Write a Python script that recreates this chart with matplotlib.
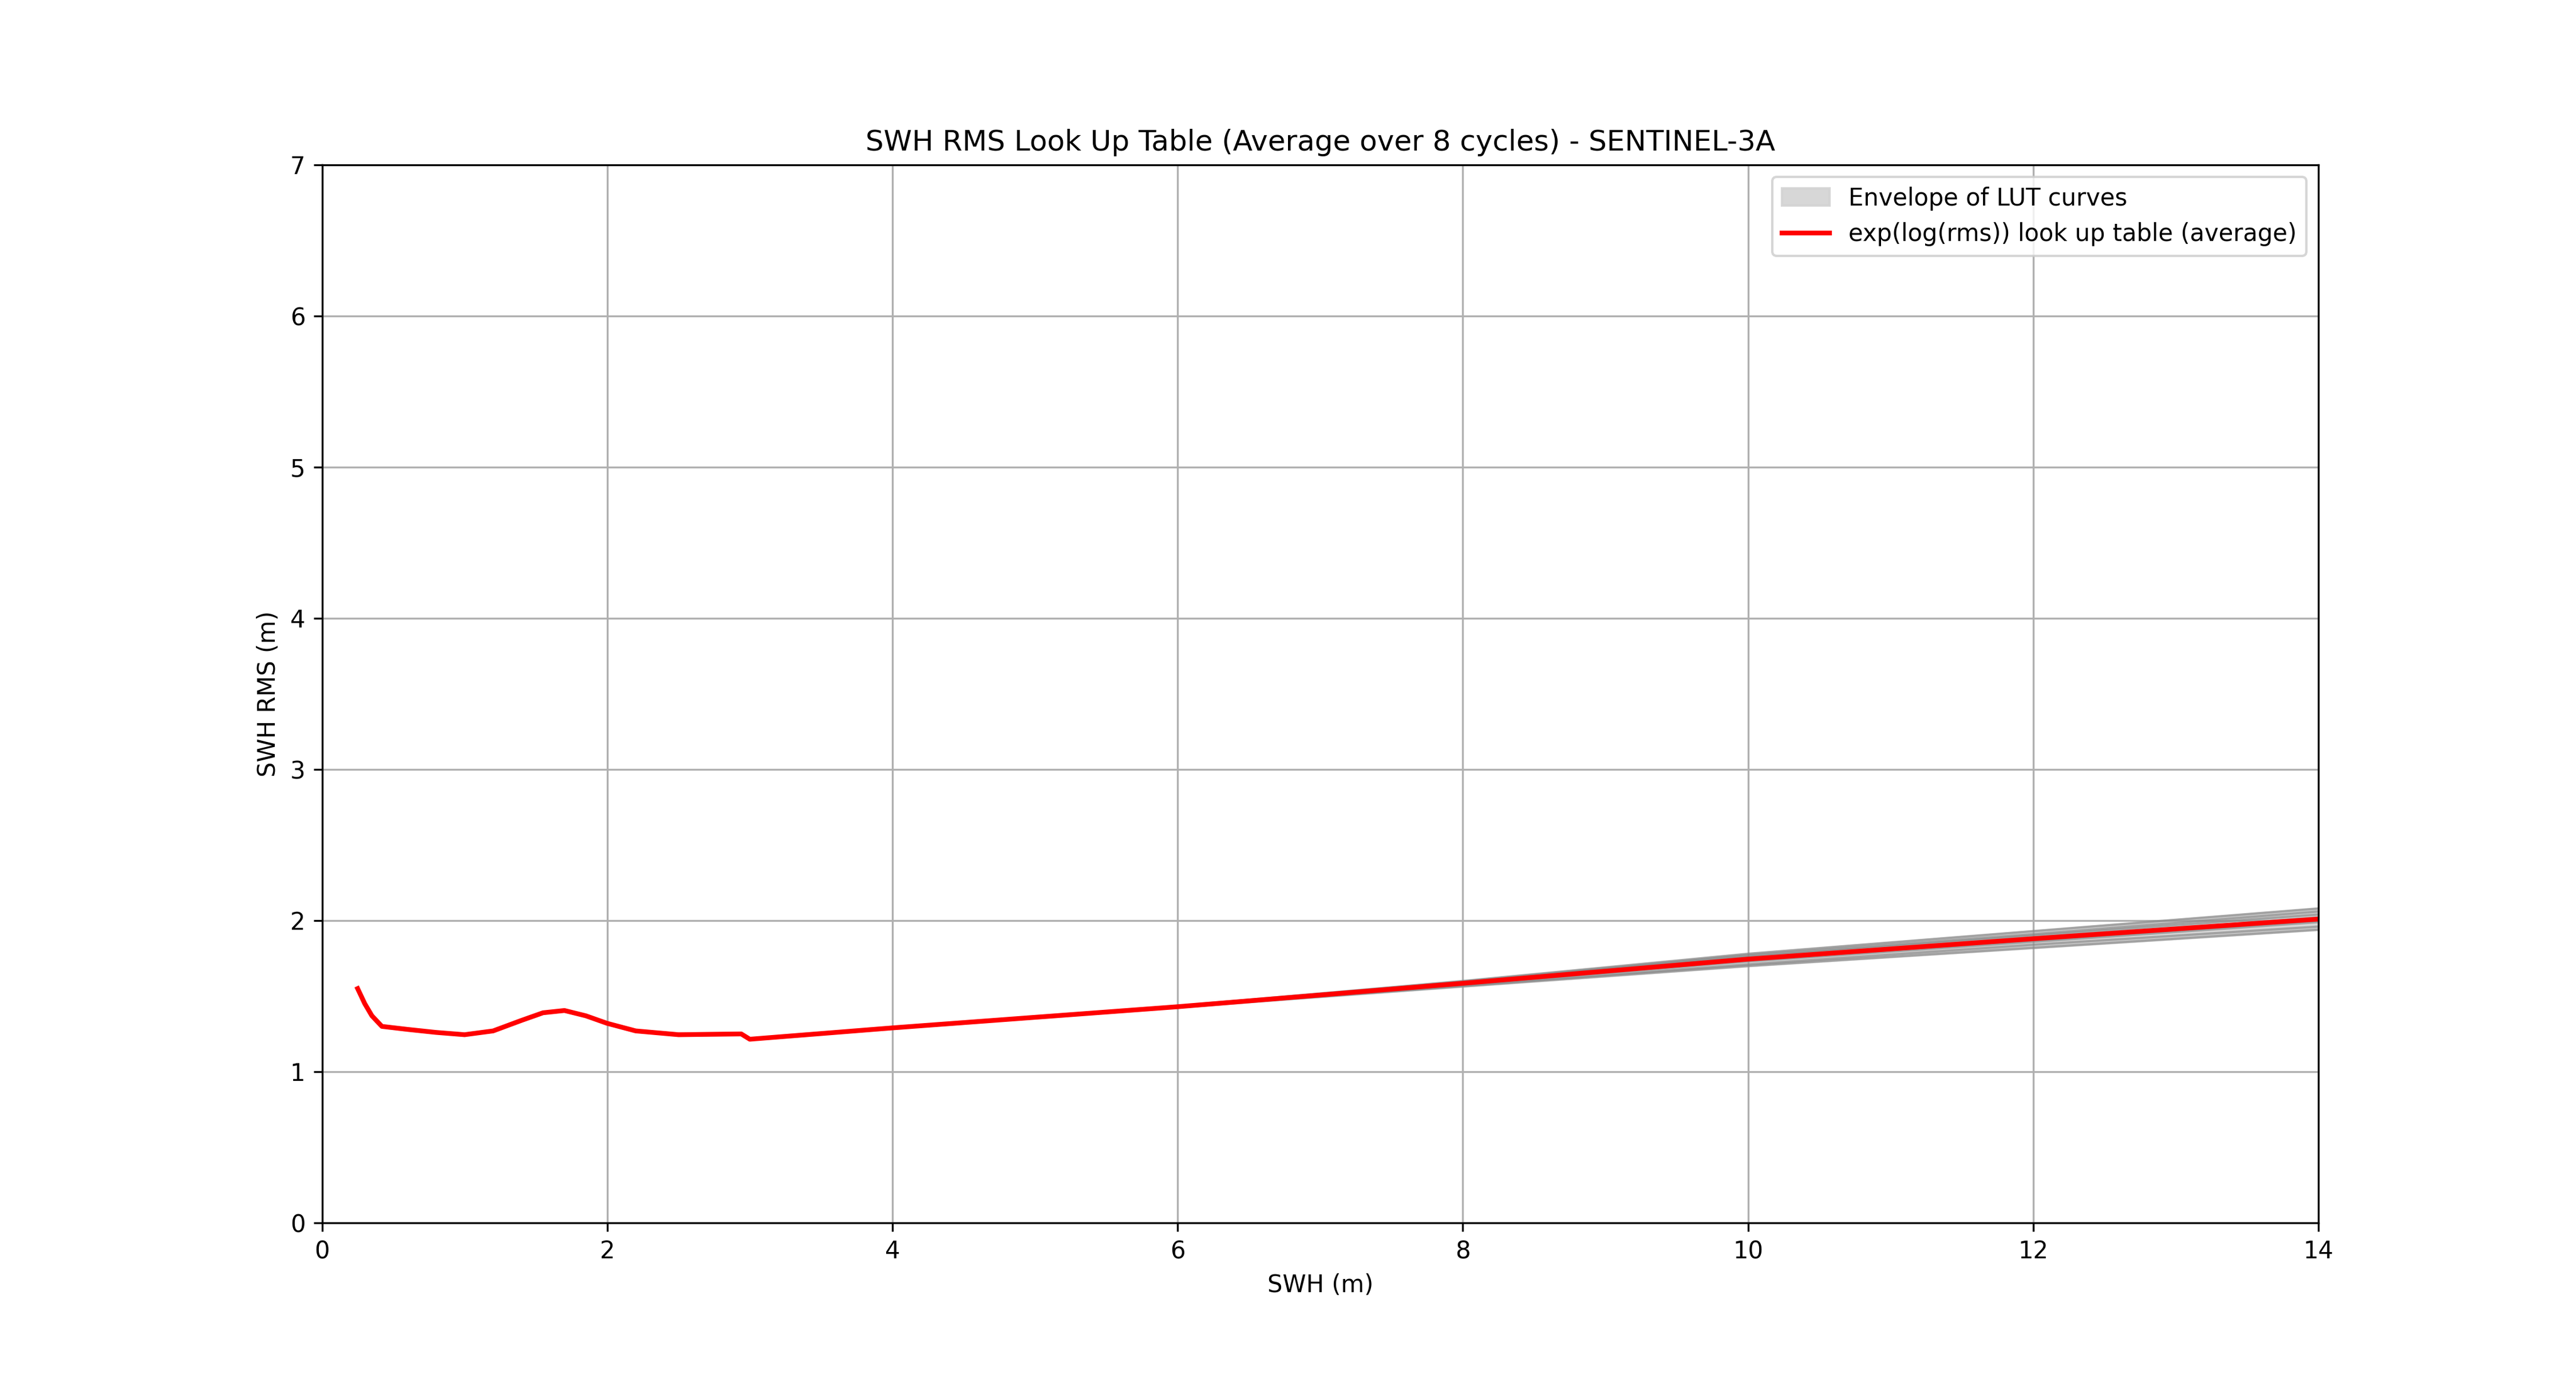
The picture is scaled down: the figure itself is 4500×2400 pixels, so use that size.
import numpy as np
import matplotlib.pyplot as plt

# average LUT curve (SWH, RMS)
swh_avg = [0.25, 0.3, 0.35, 0.42, 0.6, 0.8, 1.0, 1.2, 1.4, 1.55, 1.7, 1.85, 2.0,
           2.2, 2.5, 2.94, 3.0, 4.0, 6.0, 8.0, 10.0, 12.0, 14.0]
rms_avg = [1.55, 1.45, 1.37, 1.30, 1.28, 1.26, 1.245, 1.27, 1.34, 1.39, 1.405, 1.37, 1.32,
           1.27, 1.245, 1.25, 1.215, 1.29, 1.43, 1.585, 1.745, 1.88, 2.01]

# individual cycle curves (only diverge above ~6 m)
swh_cyc = [6.0, 8.0, 10.0, 12.0, 14.0]
rms_cycles = [
    [1.435, 1.600, 1.780, 1.930, 2.080],
    [1.433, 1.595, 1.770, 1.910, 2.060],
    [1.432, 1.590, 1.760, 1.900, 2.040],
    [1.431, 1.585, 1.750, 1.880, 2.020],
    [1.430, 1.580, 1.740, 1.870, 2.000],
    [1.429, 1.578, 1.730, 1.860, 1.990],
    [1.428, 1.570, 1.710, 1.840, 1.960],
    [1.427, 1.565, 1.700, 1.820, 1.940],
]

cyc = np.array(rms_cycles)

fig, ax = plt.subplots(figsize=(15, 8))
ax.fill_between(swh_cyc, cyc.min(axis=0), cyc.max(axis=0), color='lightgray',
                alpha=0.9, label='Envelope of LUT curves')
for c in rms_cycles:
    ax.plot(swh_cyc, c, color='gray', alpha=0.6, linewidth=1)
ax.plot(swh_avg, rms_avg, color='red', linewidth=2,
        label='exp(log(rms)) look up table (average)')

ax.set_xlim(0, 14)
ax.set_ylim(0, 7)
ax.set_xlabel('SWH (m)')
ax.set_ylabel('SWH RMS (m)')
ax.set_title('SWH RMS Look Up Table (Average over 8 cycles) - SENTINEL-3A')
ax.grid(True)
ax.legend(loc='upper right')
plt.savefig('out.png', dpi=300)
